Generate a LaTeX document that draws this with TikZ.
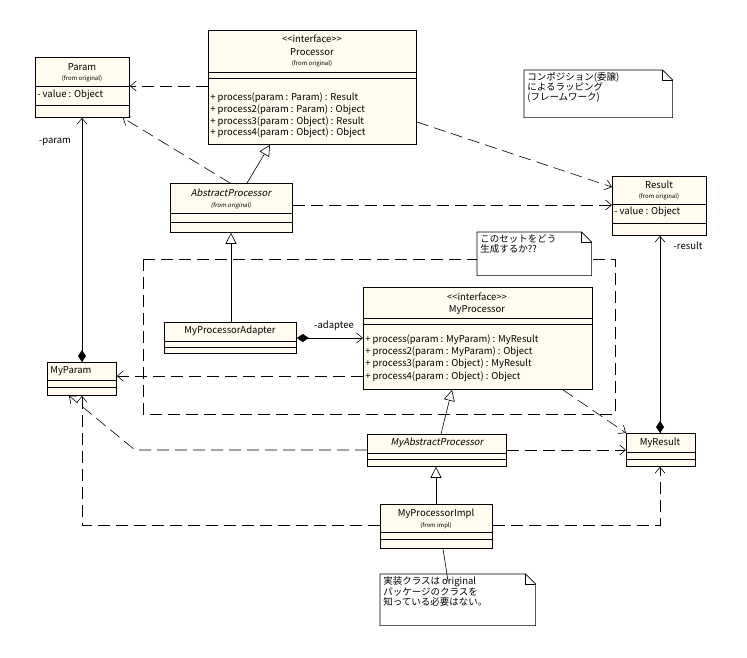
\documentclass[tikz,border=0pt]{standalone}
\usepackage{fontspec}
\setmainfont{Noto Sans CJK JP}[ItalicFont={Noto Sans CJK JP},ItalicFeatures={FakeSlant=0.2},Ligatures=NoCommon]
\usetikzlibrary{arrows.meta,calc}
\definecolor{clsfill}{RGB}{255,251,238}

\tikzset{
  cls/.style={draw,fill=clsfill,anchor=north west,inner sep=0pt,line width=0.8pt},
  txt/.style={inner sep=0pt,font=\fontsize{9.5}{10}\selectfont},
  sml/.style={inner sep=0pt,font=\fontsize{6}{6}\selectfont},
  op/.style={txt,anchor=west},
  dep/.style={dash pattern=on 12pt off 6pt,-{Straight Barb[length=6pt,width=10pt]}},
  nav/.style={-{Straight Barb[length=6pt,width=10pt]}},
  gen/.style={-{Triangle[open,length=11pt,width=11pt]},fill=white},
  comp/.style={{Diamond[length=12pt,width=8pt]}-{Straight Barb[length=6pt,width=10pt]}},
  note/.style={anchor=north west,inner sep=0pt},
  pkg/.style={dash pattern=on 12pt off 6pt}
}
% note with folded corner
\newcommand{\notebox}[1]{%
  \draw[fill=white] (#1.north west) -- ($(#1.north east)+(-10pt,0)$) -- ($(#1.north east)+(0,-10pt)$)
    -- (#1.south east) -- (#1.south west) -- cycle;
  \draw ($(#1.north east)+(-10pt,0)$) |- ($(#1.north east)+(0,-10pt)$);}
% class compartment separator
\newcommand{\sep}[2]{\draw[line width=0.8pt] (#1.west |- 0,-#2) -- (#1.east |- 0,-#2);}
\newcommand{\intf}{{<}{<}interface{>}{>}}

\begin{document}
\begin{tikzpicture}[x=1pt,y=1pt,line width=0.6pt]
\useasboundingbox (0,0) rectangle (747,-658);

% package frame
\draw[pkg] (143,-259) rectangle (615,-414);

% classes
\node[cls,minimum width=94pt,minimum height=60pt] (param) at (35,-57) {};
\sep{param}{86}\sep{param}{105}
\node[txt] at (82,-67) {Param};
\node[sml] at (82,-79) {(from original)};
\node[op] at (37,-95) {- value : Object};

\node[cls,minimum width=208pt,minimum height=114pt] (proc) at (208,-30) {};
\sep{proc}{72}\sep{proc}{78}
\node[txt] at (312,-39) {\intf};
\node[txt] at (312,-52) {Processor};
\node[sml] at (312,-64) {(from original)};
\node[op] at (210,-98) {+ process(param : Param) : Result};
\node[op] at (210,-110) {+ process2(param : Param) : Object};
\node[op] at (210,-122) {+ process3(param : Object) : Result};
\node[op] at (210,-133) {+ process4(param : Object) : Object};

\node[cls,minimum width=122pt,minimum height=49pt] (absproc) at (170,-183) {};
\sep{absproc}{213}\sep{absproc}{222}
\node[txt,font=\fontsize{9.5}{10}\selectfont\itshape] at (231,-193) {AbstractProcessor};
\node[sml,font=\fontsize{6}{6}\selectfont\itshape] at (231,-206) {(from original)};

\node[cls,minimum width=94pt,minimum height=59pt] (result) at (612,-176) {};
\sep{result}{204}\sep{result}{223}
\node[txt] at (659,-185) {Result};
\node[sml] at (659,-197) {(from original)};
\node[op] at (614,-212) {- value : Object};

\node[cls,minimum width=132pt,minimum height=31pt] (adapter) at (164,-322) {};
\sep{adapter}{341}\sep{adapter}{347}
\node[txt] at (230,-331) {MyProcessorAdapter};

\node[cls,minimum width=229pt,minimum height=102pt] (myproc) at (363,-287) {};
\sep{myproc}{318}\sep{myproc}{324}
\node[txt] at (477,-297) {\intf};
\node[txt] at (477,-310) {MyProcessor};
\node[op] at (365,-340) {+ process(param : MyParam) : MyResult};
\node[op] at (365,-352) {+ process2(param : MyParam) : Object};
\node[op] at (365,-364) {+ process3(param : Object) : MyResult};
\node[op] at (365,-377) {+ process4(param : Object) : Object};

\node[cls,minimum width=69pt,minimum height=33pt] (myparam) at (47,-362) {};
\sep{myparam}{380}\sep{myparam}{387}
\node[op] at (50,-371) {MyParam};

\node[cls,minimum width=139pt,minimum height=32pt] (myabs) at (367,-434) {};
\sep{myabs}{453}\sep{myabs}{459}
\node[txt,font=\fontsize{9.5}{10}\selectfont\itshape] at (437,-443) {MyAbstractProcessor};

\node[cls,minimum width=69pt,minimum height=33pt] (myresult) at (626,-433) {};
\sep{myresult}{452}\sep{myresult}{459}
\node[txt] at (660,-443) {MyResult};

\node[cls,minimum width=112pt,minimum height=44pt] (impl) at (380,-504) {};
\sep{impl}{532}\sep{impl}{539}
\node[txt] at (436,-514) {MyProcessorImpl};
\node[sml] at (436,-526) {(from impl)};

% notes
\node[note,minimum width=148pt,minimum height=47pt] (note1) at (524,-70) {};
\notebox{note1}
\node[txt,anchor=north west,align=left] at (527,-72) {コンポジション(委譲)\\によるラッピング\\(フレームワーク)};

\node[note,minimum width=114pt,minimum height=43pt] (note2) at (477,-232) {};
\notebox{note2}
\node[txt,anchor=north west,align=left] at (480,-234) {このセットをどう\\生成するか??};

\node[note,minimum width=155pt,minimum height=51pt] (note3) at (380,-574) {};
\notebox{note3}
\node[txt,anchor=north west,align=left] at (383,-576) {実装クラスは original\\パッケージのクラスを\\知っている必要はない。};

% connectors
\draw[dep] (proc.west |- 0,-86) -- (param.east |- 0,-86);
\draw[dep] ($(absproc.north west)+(60,0)$) -- ($(param.south east)+(-7,0)$);
\draw[gen] ($(absproc.north west)+(77,0)$) -- ($(proc.south west)+(62,0)$);
\draw[dep] (proc.east |- 0,-122) -- (result.west |- 0,-187);
\draw[dep] (absproc.east |- 0,-205) -- (result.west |- 0,-205);
\draw[gen] (adapter.north -| 231,0) -- (absproc.south -| 231,0);
\draw[nav] (myparam.north -| 82,0) -- (param.south -| 82,0);
\fill (myparam.north -| 82,0) -- ++(4,6) -- ++(-4,6) -- ++(-4,-6) -- cycle;
\node[txt] at (55,-142) {-param};
\draw[nav] (myresult.north -| 660,0) -- (result.south -| 660,0);
\fill (myresult.north -| 660,0) -- ++(4,6) -- ++(-4,6) -- ++(-4,-6) -- cycle;
\node[txt] at (688,-246) {-result};
\draw[comp] (adapter.east |- 0,-338) -- (myproc.west |- 0,-338);
\node[txt] at (334,-326) {-adaptee};
\draw[dep] (myproc.west |- 0,-376) -- (myparam.east |- 0,-376);
\draw[dep] ($(myproc.south east)+(-30,0)$) -- (myresult.north west);
\draw[gen] ($(myabs.north west)+(74,0)$) -- ($(myproc.south west)+(89,0)$);
\draw[dep] (myabs.west |- 0,-450) -- (135,-450) -- ($(myparam.south west)+(22,0)$);
\draw[dep] (myabs.east |- 0,-450) -- (myresult.west |- 0,-450);
\draw[gen] (impl.north -| 436,0) -- (myabs.south -| 436,0);
\draw[dep] (impl.west |- 0,-525) -- (82,-525) -- (myparam.south -| 82,0);
\draw[dep] (impl.east |- 0,-525) -- (660,-525) -- (myresult.south -| 660,0);
\draw ($(impl.south west)+(63,0)$) -- ($(note3.north west)+(68,-7)$);
\end{tikzpicture}
\end{document}
